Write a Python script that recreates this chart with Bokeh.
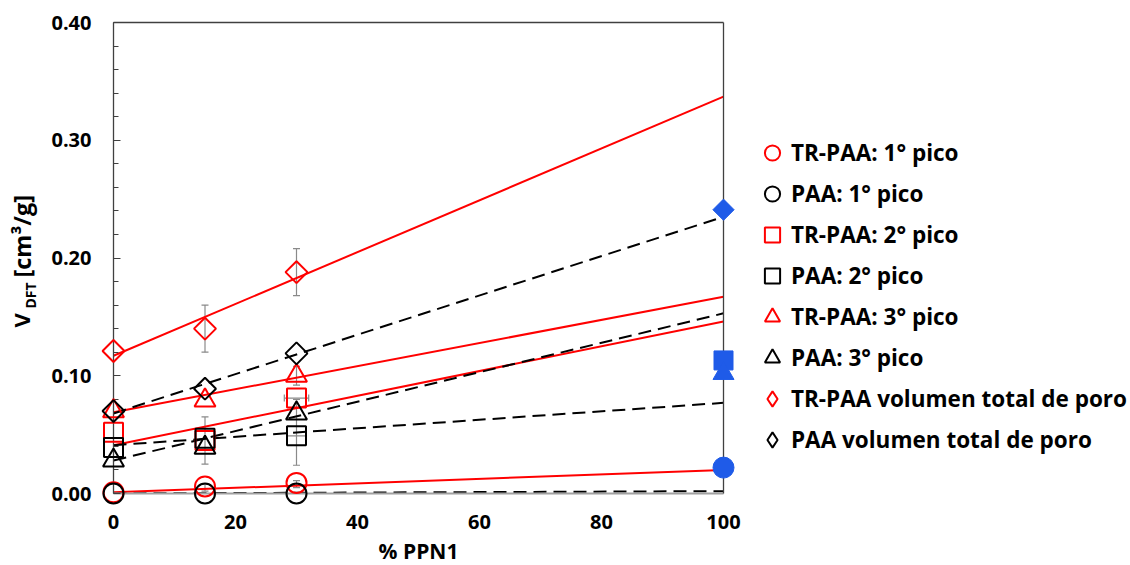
import numpy as np
from bokeh.plotting import figure
from bokeh.core.properties import value
from bokeh.models import (Range1d, LinearAxis, FixedTicker, SingleIntervalTicker, Legend, LegendItem,
                          Whisker, TeeHead, ColumnDataSource, PrintfTickFormatter)
from bokeh.embed import file_html
from bokeh.resources import INLINE

# ---------------- data ----------------
x_pts = [0, 15, 30]
tr_p1 = [0.001, 0.006, 0.009]
paa_p1 = [0.000, 0.000, 0.000]
tr_p2 = [0.052, 0.045, 0.081]
paa_p2 = [0.039, 0.047, 0.049]
tr_p3 = [0.070, 0.079, 0.100]
paa_p3 = [0.028, 0.039, 0.068]
tr_tot = [0.121, 0.140, 0.188]
paa_tot = [0.070, 0.089, 0.119]

fit_x = [0, 100]
fit_tr_p1 = [0.001, 0.020]
fit_paa_p1 = [0.000, 0.002]
fit_tr_p2 = [0.041, 0.146]
fit_paa_p2 = [0.041, 0.077]
fit_tr_p3 = [0.069, 0.167]
fit_paa_p3 = [0.028, 0.153]
fit_tr_tot = [0.117, 0.337]
fit_paa_tot = [0.068, 0.235]

ppn1_x = [100]
ppn1_p1 = [0.022]
ppn1_p2 = [0.113]
ppn1_p3 = [0.102]
ppn1_tot = [0.241]

# error bars (vertical)
ev_x = [15, 30, 30, 15, 30, 15, 30]
ev_y = [0.140, 0.188, 0.100, 0.045, 0.052, 0.005, 0.008]
ev_e = [0.020, 0.020, 0.008, 0.020, 0.028, 0.003, 0.003]
# error bars (horizontal)
eh_x = [30, 30]
eh_y = [0.081, 0.049]
eh_e = [2.0, 1.5]

legend_labels = ["TR-PAA: 1° pico", "PAA: 1° pico", "TR-PAA: 2° pico", "PAA: 2° pico",
                 "TR-PAA: 3° pico", "PAA: 3° pico", "TR-PAA volumen total de poro",
                 "PAA volumen total de poro"]

x_title = "% PPN1"
y_title_main = "V"
y_title_sub = "DFT"
y_title_unit = "[cm³/g]"

# ---------------- layout ----------------
FONT = "Open Sans"
RED = "#FF0000"
BLK = "#000000"
BLUE = "#1F5BE8"
X0, X1 = 0, 100
Y0, Y1 = 0, 0.40
W, H = 1130, 565
FL, FT = 113, 22
FW, FH = 610, 471
FB = FT + FH
PPX = FW / (X1 - X0)
PPY = FH / (Y1 - Y0)


def dx(cx):
    return X0 + (cx - FL) / PPX


def dy(cy):
    return Y0 + (FB - cy) / PPY


p = figure(frame_width=FW, frame_height=FH, x_range=Range1d(X0, X1), y_range=Range1d(Y0, Y1),
           output_backend="svg", toolbar_location=None,
           min_border_left=FL, min_border_top=FT, min_border_bottom=H - FB,
           min_border_right=W - FL - FW, x_axis_type=None, y_axis_type=None)
p.outline_line_color = None
p.grid.visible = False
p.background_fill_color = "white"

# bottom axis
xax = LinearAxis(ticker=SingleIntervalTicker(interval=20, num_minor_ticks=0))
xax.axis_line_color = "#A0A0A0"
xax.axis_line_width = 2
xax.major_tick_in = 0
xax.major_tick_out = 0
xax.minor_tick_in = 0
xax.minor_tick_out = 0
xax.major_label_text_font = FONT
xax.major_label_text_font_style = "bold"
xax.major_label_text_font_size = "20px"
xax.major_label_text_color = BLK
xax.major_label_standoff = 21
p.add_layout(xax, "below")

# left axis
yax = LinearAxis(ticker=SingleIntervalTicker(interval=0.1, num_minor_ticks=5),
                 formatter=PrintfTickFormatter(format="%.2f"))
yax.axis_line_color = "#404040"
yax.axis_line_width = 1.3
yax.major_tick_line_color = "#404040"
yax.minor_tick_line_color = "#404040"
yax.major_tick_in = 7
yax.major_tick_out = 0
yax.minor_tick_in = 5
yax.minor_tick_out = 0
yax.major_label_text_font = FONT
yax.major_label_text_font_style = "bold"
yax.major_label_text_font_size = "20px"
yax.major_label_text_color = BLK
yax.major_label_standoff = 22
p.add_layout(yax, "left")

# top and right borders
for side in ("above", "right"):
    ax = LinearAxis(ticker=FixedTicker(ticks=[]))
    ax.axis_line_color = "#404040"
    ax.axis_line_width = 1.3
    ax.major_tick_in = 0
    ax.major_tick_out = 0
    ax.minor_tick_in = 0
    ax.minor_tick_out = 0
    ax.major_label_standoff = 0
    ax.major_label_text_font_size = "1px"
    p.add_layout(ax, side)

# error bars
src_v = ColumnDataSource(dict(x=ev_x, lo=[a - b for a, b in zip(ev_y, ev_e)],
                              hi=[a + b for a, b in zip(ev_y, ev_e)]))
wv = Whisker(source=src_v, base="x", lower="lo", upper="hi", dimension="height",
             line_color="#8A8A8A", line_width=1.2,
             lower_head=TeeHead(size=7, line_color="#8A8A8A", line_width=1.2),
             upper_head=TeeHead(size=7, line_color="#8A8A8A", line_width=1.2))
p.add_layout(wv)
src_h = ColumnDataSource(dict(y=eh_y, lo=[a - b for a, b in zip(eh_x, eh_e)],
                              hi=[a + b for a, b in zip(eh_x, eh_e)]))
wh = Whisker(source=src_h, base="y", lower="lo", upper="hi", dimension="width",
             line_color="#8A8A8A", line_width=1.2,
             lower_head=TeeHead(size=7, line_color="#8A8A8A", line_width=1.2),
             upper_head=TeeHead(size=7, line_color="#8A8A8A", line_width=1.2))
p.add_layout(wh)

# fit lines
for ys in (fit_tr_p1, fit_tr_p2, fit_tr_p3, fit_tr_tot):
    p.line(fit_x, ys, line_color=RED, line_width=2)
for ys in (fit_paa_p1, fit_paa_p2, fit_paa_p3, fit_paa_tot):
    p.line(fit_x, ys, line_color=BLK, line_width=2, line_dash="13 7")

# markers
DIA = np.pi / 4
specs = [
    (tr_p1, "circle", RED, 20, 0),
    (paa_p1, "circle", BLK, 20, 0),
    (tr_p2, "square", RED, 19, 0),
    (paa_p2, "square", BLK, 19, 0),
    (tr_p3, "triangle", RED, 21, 0),
    (paa_p3, "triangle", BLK, 21, 0),
    (tr_tot, "square", RED, 15.5, DIA),
    (paa_tot, "square", BLK, 15.5, DIA),
]
items = []
for (ys, mk, col, sz, ang), lab in zip(specs, legend_labels):
    r = p.scatter(x_pts, ys, marker=mk, size=sz, angle=ang, fill_color=None,
                  line_color=col, line_width=2, level="overlay")
    if ang:
        # legend glyphs ignore marker angle: use a hidden diamond proxy for the key
        r = p.scatter(np.array([np.nan]), np.array([np.nan]), marker="diamond", size=sz,
                      fill_color=None, line_color=col, line_width=2, level="overlay")
    items.append(LegendItem(label=lab, renderers=[r]))

p.scatter(ppn1_x, ppn1_p1, marker="circle", size=21, fill_color=BLUE, line_color=BLUE, level="overlay")
p.scatter(ppn1_x, ppn1_p2, marker="square", size=19, fill_color=BLUE, line_color=BLUE, level="overlay")
p.scatter(ppn1_x, ppn1_p3, marker="triangle", size=21, fill_color=BLUE, line_color=BLUE, level="overlay")
p.scatter(ppn1_x, ppn1_tot, marker="square", size=15, angle=DIA, fill_color=BLUE, line_color=BLUE,
          level="overlay")

legend = Legend(items=items, location=(-201, 33), orientation="vertical",
                glyph_width=38, glyph_height=41, spacing=0, padding=0, margin=0,
                label_standoff=0, label_text_font=FONT, label_text_font_style="bold",
                label_text_font_size="22.5px", label_text_color=BLK,
                background_fill_alpha=0, border_line_color=None)
p.add_layout(legend, "right")

# axis titles as text glyphs drawn over the margins
tkw = dict(text_font=value(FONT), text_font_style="bold", text_color=BLK, level="overlay")
p.text(x=[dx(20.5)], y=[dy(327)], text=[y_title_main], angle=np.pi / 2, text_align="left",
       text_baseline="middle", text_font_size="22px", **tkw)
p.text(x=[dx(30)], y=[dy(308)], text=[y_title_sub], angle=np.pi / 2, text_align="left",
       text_baseline="middle", text_font_size="14px", **tkw)
p.text(x=[dx(21)], y=[dy(277)], text=[y_title_unit], angle=np.pi / 2, text_align="left",
       text_baseline="middle", text_font_size="23.5px", **tkw)
p.text(x=[50], y=[dy(550)], text=[x_title], text_align="center",
       text_baseline="middle", text_font_size="21px", **tkw)

open("out.html", "w").write(file_html(p, INLINE))
